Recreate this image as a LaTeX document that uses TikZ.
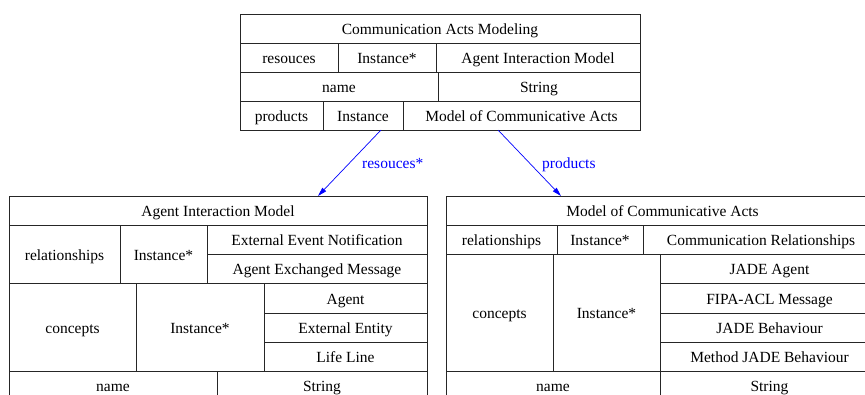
\documentclass[tikz,border=0pt]{standalone}
\usepackage{fontspec}
\setmainfont{Liberation Serif}
\usetikzlibrary{arrows.meta}
\tikzset{cell/.style = {shape=rectangle,draw=black!85,line width=0.8pt,inner sep=0pt,outer sep=0pt,text height=13pt,text depth=1.5pt}}
\tikzset{link/.style = {-{Triangle[length=9pt,width=5pt]},draw=blue,line width=0.7pt}}
\tikzset{linklabel/.style = {anchor=west,text=blue,xshift=9pt,yshift=-2pt,text height=10.5pt,text depth=3.5pt}}
\newcommand{\tcell}[6]{\node[cell, minimum width={(#4-#2)*1pt}, minimum height={(#5-#3)*1pt}] (#1) at ({(#2+#4)/2},{(#3+#5)/2}) {#6};}

\begin{document}
\begin{tikzpicture}[x=1pt,y=-1pt,font=\fontsize{15.5}{18}\selectfont]
      \useasboundingbox (0,0) rectangle (865,394);
      \clip (0,0) rectangle (865,394);

      % Communication Acts Modeling
      \tcell{a}{240}{14}{640}{43}{Communication Acts Modeling}
      \tcell{a1}{240}{43}{338}{72}{resouces}
      \tcell{a2}{338}{43}{436}{72}{Instance*}
      \tcell{a3}{436}{43}{640}{72}{Agent Interaction Model}
      \tcell{a4}{240}{72}{438}{101}{name}
      \tcell{a5}{438}{72}{640}{101}{String}
      \tcell{a6}{240}{101}{323}{130}{products}
      \tcell{a7}{323}{101}{403}{130}{Instance}
      \tcell{a8}{403}{101}{640}{130}{Model of Communicative Acts}

      % Agent Interaction Model
      \tcell{b}{9}{196}{427}{225}{Agent Interaction Model}
      \tcell{b1}{9}{225}{120}{283.5}{relationships}
      \tcell{b2}{120}{225}{207}{283.5}{Instance*}
      \tcell{b3}{207}{225}{427}{254.5}{External Event Notification}
      \tcell{b4}{207}{254.5}{427}{283.5}{Agent Exchanged Message}
      \tcell{b5}{9}{283.5}{136}{371}{concepts}
      \tcell{b6}{136}{283.5}{264}{371}{Instance*}
      \tcell{b7}{264}{283.5}{427}{313}{Agent}
      \tcell{b8}{264}{313}{427}{342}{External Entity}
      \tcell{b9}{264}{342}{427}{371}{Life Line}
      \tcell{b10}{9}{371}{217}{400}{name}
      \tcell{b11}{217}{371}{427}{400}{String}

      % Model of Communicative Acts
      \tcell{c}{446}{196}{879}{225}{Model of Communicative Acts}
      \tcell{c1}{446}{225}{557}{254.5}{relationships}
      \tcell{c2}{557}{225}{643}{254.5}{Instance*}
      \tcell{c3}{643}{225}{879}{254.5}{Communication Relationships}
      \tcell{c4}{446}{254.5}{553}{371}{concepts}
      \tcell{c5}{553}{254.5}{660}{371}{Instance*}
      \tcell{c6}{660}{254.5}{879}{283.5}{JADE Agent}
      \tcell{c7}{660}{283.5}{879}{313}{FIPA-ACL Message}
      \tcell{c8}{660}{313}{879}{342}{JADE Behaviour}
      \tcell{c9}{660}{342}{879}{371}{Method JADE Behaviour}
      \tcell{c10}{446}{371}{660}{400}{name}
      \tcell{c11}{660}{371}{879}{400}{String}

      \draw[link] ([xshift=18pt]a7.south) -- node[linklabel] {resouces*} ([xshift=100pt]b.north);
      \draw[link] ([xshift=-23.5pt]a8.south) -- node[linklabel] {products} ([xshift=-101.5pt]c.north);
    \end{tikzpicture}
\end{document}
